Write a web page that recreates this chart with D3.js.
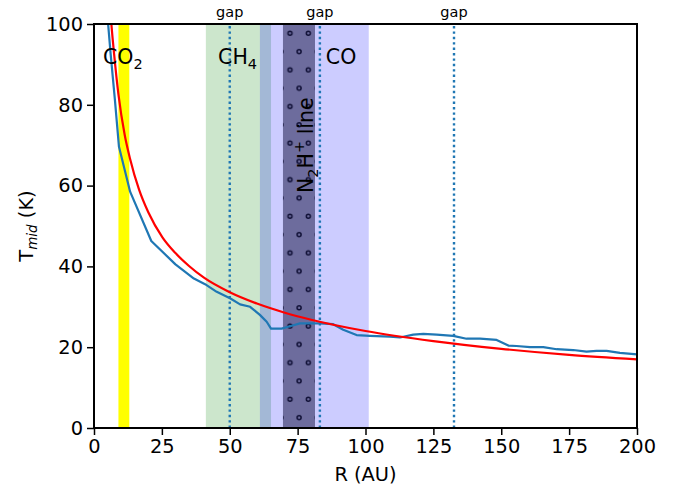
<!DOCTYPE html>
<html>
<head>
<meta charset="utf-8">
<script src="https://cdn.jsdelivr.net/npm/d3@7/dist/d3.min.js"></script>
<style>
  body { margin: 0; background: #fff; }
  svg { font-family: "DejaVu Sans", sans-serif; }
</style>
</head>
<body>
<svg class="chart"></svg>
<script>
// figure size and plot area
var width = 682;
var height = 487;
var margin = {top: 24, right: 45, bottom: 59, left: 94};
var w = width - margin.left - margin.right;
var h = height - margin.top - margin.bottom;

// snow line / N2H+ bands (R in AU)
var bandNames = ["CO2", "CH4", "CO", "N2H+"];
var bandLo = [9, 41.2, 61.1, 69.6];
var bandHi = [13, 65.2, 101.2, 81.4];

// gap positions (AU)
var gapR = [50, 83.2, 132.6];

// midplane temperature profile (blue)
var profR = [4.8, 5.2, 6.1, 7.7, 9.2, 13.3, 21.1, 30, 36.8, 40.9, 45.2, 50.1, 53.8, 57.5, 61.1, 63.6,
             65.2, 69.1, 72.2, 75.9, 83.2, 88.1, 91.8, 96.7, 101.7, 109, 112.7, 117.6, 121.3, 126.2,
             132.3, 137.2, 142.2, 148.3, 152.6, 155.6, 160.6, 165.5, 170.4, 176.5, 181.4, 185.1,
             188.8, 193.7, 200];
var profT = [106, 100, 92.8, 81.2, 69.6, 58.5, 46.3, 40.5, 37, 35.6, 33.7, 32.1, 30.6, 30, 28, 26.3,
             24.6, 24.6, 25.2, 25.9, 25.9, 25.7, 24.3, 23.0, 22.8, 22.6, 22.4, 23.1, 23.3, 23.1,
             22.8, 22.1, 22.1, 21.8, 20.4, 20.3, 20.0, 20.0, 19.5, 19.3, 18.9, 19.1,
             19.1, 18.6, 18.2];

// model temperature (red)
var modelR = [6.0, 6.4, 7.4, 9, 11.3, 13.3, 16.6, 20, 25.2, 30, 35, 40.5, 50, 60, 70, 80, 100, 125, 150, 175, 200];
var modelT = [103.6, 100, 92.6, 82.6, 72.6, 66.6, 59, 53.4, 47.2, 43.3, 40.1, 37.2, 33.6,
              30.8, 28.6, 26.8, 24, 21.5, 19.6, 18.1, 17];

var xTicks = [0, 25, 50, 75, 100, 125, 150, 175, 200];
var yTicks = [0, 20, 40, 60, 80, 100];

var svg = d3.select(".chart")
    .attr("width", width)
    .attr("height", height);

var x = d3.scaleLinear().domain([0, 200]).range([margin.left, margin.left + w]);
var y = d3.scaleLinear().domain([0, 100]).range([margin.top + h, margin.top]);

var defs = svg.append("defs");
defs.append("clipPath").attr("id", "plotclip")
    .append("rect")
    .attr("x", x(0)).attr("y", y(100))
    .attr("width", x(200) - x(0)).attr("height", y(0) - y(100));

// 'o' hatch for the N2H+ band
var hatch = defs.append("pattern")
    .attr("id", "ohatch")
    .attr("patternUnits", "userSpaceOnUse")
    .attr("x", 290 - 9.15).attr("y", 33.3 - 9.15)
    .attr("width", 18.3).attr("height", 36.6);
[[9.15, 9.15], [0, 27.45], [18.3, 27.45]].forEach(function(c) {
    hatch.append("circle")
        .attr("cx", c[0]).attr("cy", c[1]).attr("r", 2)
        .attr("fill", "none")
        .attr("stroke", "#0d0d33")
        .attr("stroke-width", 1.5);
});

var plot = svg.append("g").attr("clip-path", "url(#plotclip)");

// bands
var bandFill = ["#ffff00", "green", "blue", "#5c5a8c"];
var bandOpacity = [1, 0.2, 0.2, 0.85];
bandNames.forEach(function(name, i) {
    plot.append("rect")
        .attr("x", x(bandLo[i]))
        .attr("y", y(100))
        .attr("width", x(bandHi[i]) - x(bandLo[i]))
        .attr("height", y(0) - y(100))
        .attr("fill", bandFill[i])
        .attr("fill-opacity", bandOpacity[i]);
    if (name === "N2H+") {
        plot.append("rect")
            .attr("x", x(bandLo[i]))
            .attr("y", y(100))
            .attr("width", x(bandHi[i]) - x(bandLo[i]))
            .attr("height", y(0) - y(100))
            .attr("fill", "url(#ohatch)");
    }
});

// gap lines
gapR.forEach(function(r) {
    plot.append("line")
        .attr("x1", x(r)).attr("x2", x(r))
        .attr("y1", y(0)).attr("y2", y(100))
        .attr("stroke", "#1f77b4")
        .attr("stroke-width", 2.4)
        .attr("stroke-dasharray", "2.4,3");
    svg.append("text")
        .attr("x", x(r))
        .attr("y", 17)
        .attr("text-anchor", "middle")
        .style("font-size", "14.5px")
        .text("gap");
});

// curves
var profile = d3.zip(profR, profT);
var model = d3.zip(modelR, modelT);

plot.append("path")
    .datum(profile)
    .attr("fill", "none")
    .attr("stroke", "#1f77b4")
    .attr("stroke-width", 2.2)
    .attr("stroke-linejoin", "round")
    .attr("d", d3.line().x(function(d) { return x(d[0]); }).y(function(d) { return y(d[1]); }));

plot.append("path")
    .datum(model)
    .attr("fill", "none")
    .attr("stroke", "red")
    .attr("stroke-width", 2.2)
    .attr("d", d3.line().curve(d3.curveMonotoneX)
        .x(function(d) { return x(d[0]); }).y(function(d) { return y(d[1]); }));

// band labels
function chem(sel, base, sub) {
    sel.append("tspan").text(base);
    if (sub) sel.append("tspan").attr("dy", 5).style("font-size", "14.5px").text(sub);
    return sel;
}
var lab = svg.append("g").style("font-size", "20.5px");
chem(lab.append("text").attr("x", x(3.3)).attr("y", y(90)), "CO", "2");
chem(lab.append("text").attr("x", x(45.7)).attr("y", y(90)), "CH", "4");
lab.append("text").attr("x", x(85.4)).attr("y", y(90)).text("CO");
var n2 = chem(lab.append("text").attr("transform", "translate(313,193) rotate(-90)"), "N", "2");
n2.append("tspan").attr("dy", -5).text("H");
n2.append("tspan").attr("dy", -9).style("font-size", "14.5px").text("+");
n2.append("tspan").attr("dy", 9).text(" line");

// axes
var xAxis = d3.axisBottom(x).tickValues(xTicks).tickSize(7).tickPadding(4).tickFormat(d3.format("d"));
var yAxis = d3.axisLeft(y).tickValues(yTicks).tickSize(7).tickPadding(4).tickFormat(d3.format("d"));

svg.append("g")
    .attr("transform", "translate(0," + y(0) + ")")
    .call(xAxis);
svg.append("g")
    .attr("transform", "translate(" + x(0) + ",0)")
    .call(yAxis);

svg.selectAll(".tick text").style("font-size", "19.4px").attr("fill", "#000").style("font-family", "DejaVu Sans");
svg.selectAll(".tick line").attr("stroke", "#000").attr("stroke-width", 1.5);
svg.selectAll(".domain").remove();

// frame
svg.append("rect")
    .attr("x", x(0)).attr("y", y(100))
    .attr("width", x(200) - x(0)).attr("height", y(0) - y(100))
    .attr("fill", "none")
    .attr("stroke", "#000")
    .attr("stroke-width", 2);

// axis labels
svg.append("text")
    .attr("x", (x(0) + x(200)) / 2)
    .attr("y", 481)
    .attr("text-anchor", "middle")
    .style("font-size", "19.4px")
    .text("R (AU)");

var yl = svg.append("text")
    .attr("transform", "translate(33," + ((y(0) + y(100)) / 2) + ") rotate(-90)")
    .attr("text-anchor", "middle")
    .style("font-size", "19.4px");
yl.append("tspan").text("T");
yl.append("tspan").attr("dy", 4).style("font-size", "13.5px").style("font-style", "italic").text("mid");
yl.append("tspan").attr("dy", -4).text(" (K)");
</script>
</body>
</html>
